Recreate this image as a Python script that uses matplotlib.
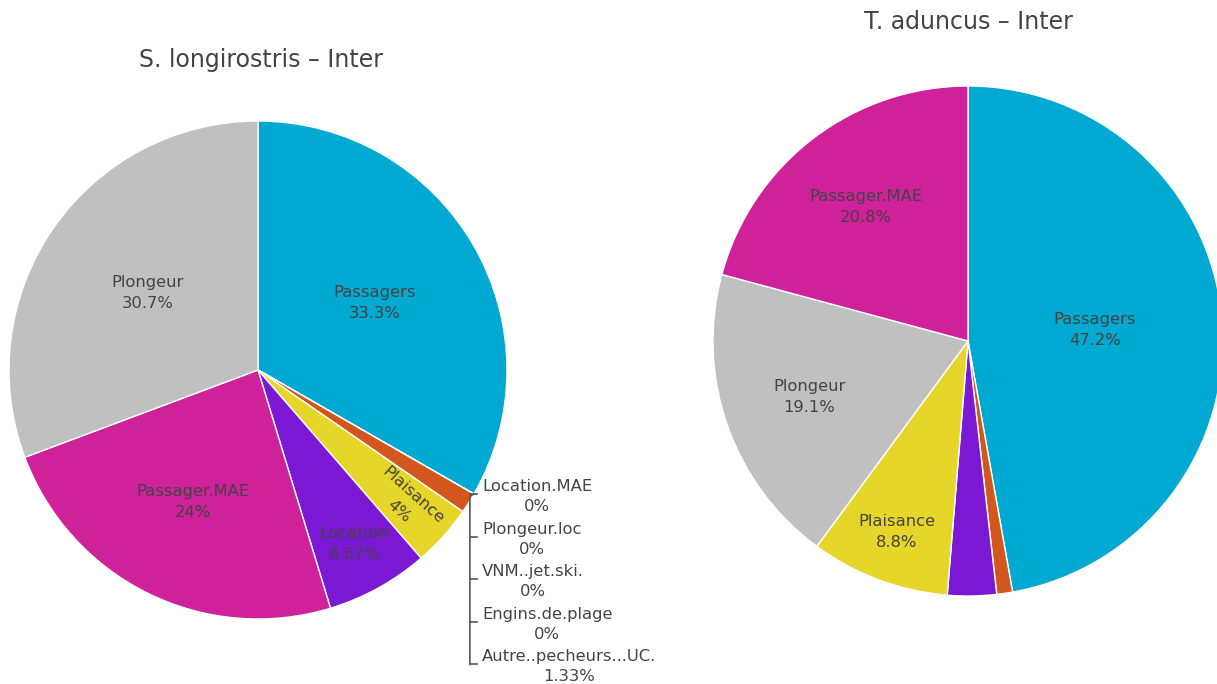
# Two pie charts of user categories (Inter period), one per dolphin species
import numpy as np
import matplotlib.pyplot as plt

plt.rcParams['font.family'] = ['DejaVu Sans']

# data
left_title  = 'S. longirostris – Inter'
left_labels = ['Passagers', 'Location.MAE', 'Plongeur.loc', 'VNM..jet.ski.',
               'Engins.de.plage', 'Autre..pecheurs...UC.', 'Plaisance',
               'Location', 'Passager.MAE', 'Plongeur']
left_values = [33.3, 0, 0, 0, 0, 1.33, 4, 6.67, 24, 30.7]

right_title  = 'T. aduncus – Inter'
right_labels = ['Passagers', 'Autre..pecheurs...UC.', 'Location', 'Plaisance',
                'Plongeur', 'Passager.MAE']
right_values = [47.2, 1.0, 3.1, 8.8, 19.1, 20.8]

#colors per category
COLORS = {
    'Passagers'            : '#00a9d1',
    'Location.MAE'         : '#2b2b2b',
    'Plongeur.loc'         : '#2b2b2b',
    'VNM..jet.ski.'        : '#2b2b2b',
    'Engins.de.plage'      : '#2b2b2b',
    'Autre..pecheurs...UC.': '#d2571f',
    'Plaisance'            : '#e6d62a',
    'Location'             : '#7a18d4',
    'Passager.MAE'         : '#cf219a',
    'Plongeur'             : '#c0c0c0',
}
TEXT_COLOR = '#444444'
LABEL_SIZE = 11.8
W, H = 1217, 684


def fmt_pct(v):
    return f"{v:.3g}%"


# how far out (fraction of radius) the inside text sits, by slice size
def text_frac(v):
    if v < 10:
        return 0.8
    if v < 22:
        return 0.66
    if v < 30:
        return 0.59
    if v < 40:
        return 0.54
    return 0.5


def draw_pie(ax, labels, values, center, radius, title, title_xy, outside=True):
    wedges, _ = ax.pie(values, colors=[COLORS[l] for l in labels],
                       startangle=90, counterclock=False, normalize=True,
                       center=center, radius=radius,
                       wedgeprops=dict(edgecolor='white', linewidth=1.0))
    cx, cy = center
    small = []
    for w, lab, v in zip(wedges, labels, values):
        if v < 4:
            small.append((w, lab, v))
            continue
        mid = np.deg2rad((w.theta1 + w.theta2) / 2)
        frac = text_frac(v)
        x = cx + frac * radius * np.cos(mid)
        y = cy + frac * radius * np.sin(mid)
        rot = 0
        if v < 5:  # narrow slice, text follows the radius
            rot = np.rad2deg(mid)
            if 90 < rot % 360 < 270:
                rot += 180
        ax.text(x, y, f"{lab}\n{fmt_pct(v)}", ha='center', va='center',
                rotation=rot, rotation_mode='anchor', fontsize=LABEL_SIZE,
                color=TEXT_COLOR, linespacing=1.5)

    # stacked outside labels for tiny slices
    if outside and small:
        order = [s for s in small if s[2] == 0] + [s for s in small if s[2] > 0]
        t0 = np.deg2rad(small[0][0].theta1)
        ax0 = cx + radius * np.cos(t0)
        ay0 = cy + radius * np.sin(t0)
        step = 42.6
        xl = ax0 - 4
        ticks = [ay0 - i * step for i in range(len(order))]
        ax.plot([ax0, xl, xl], [ay0, ay0 - 2, ticks[-1]], color='#555555', lw=1.2)
        for i, (w, lab, v) in enumerate(order):
            ty = ticks[i]
            ax.plot([xl, xl + 7], [ty, ty], color='#555555', lw=1.2)
            ax.text(xl + 12, ty + 15, f"{lab}\n{fmt_pct(v)}", ha='left', va='top',
                    multialignment='center', fontsize=LABEL_SIZE, color=TEXT_COLOR,
                    linespacing=1.42)

    ax.text(title_xy[0], title_xy[1], title, ha='center', va='center',
            fontsize=17, color=TEXT_COLOR)


fig = plt.figure(figsize=(W / 100, H / 100), dpi=100)
ax = fig.add_axes([0, 0, 1, 1])

draw_pie(ax, left_labels, left_values, (258, H - 370), 249, left_title, (261, H - 60))
draw_pie(ax, right_labels, right_values, (968, H - 341), 255, right_title, (968, H - 22),
         outside=False)

ax.set_xlim(0, W)
ax.set_ylim(0, H)
ax.set_aspect('equal')
ax.axis('off')

plt.savefig('out.png', dpi=100, facecolor='white')
